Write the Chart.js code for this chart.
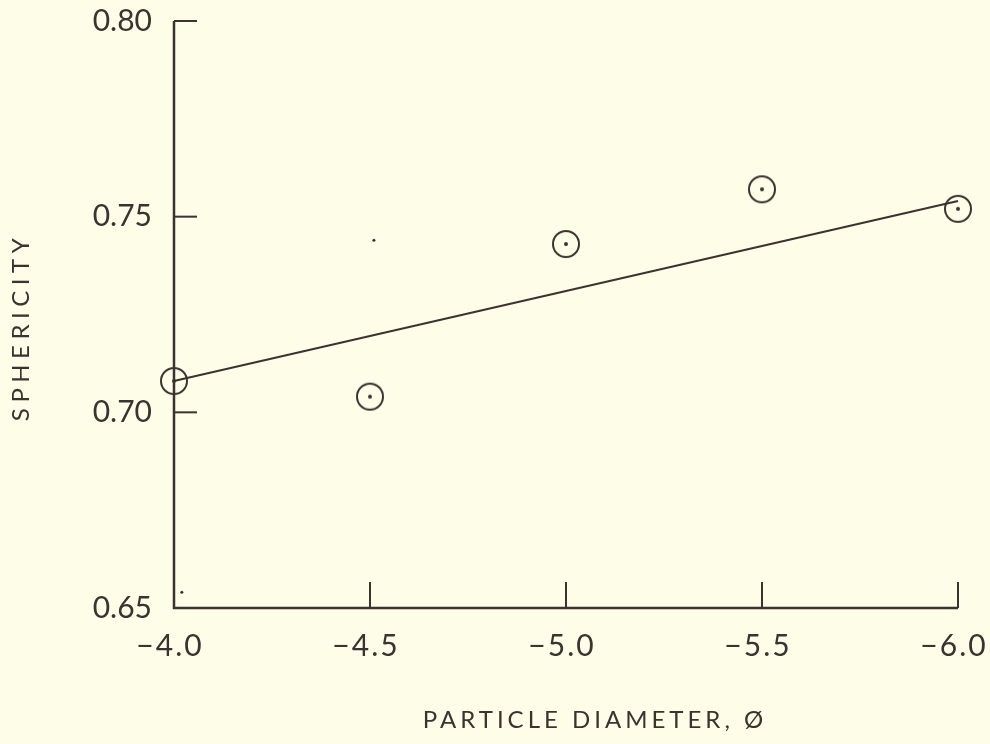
<!DOCTYPE html>
<html>
<head>
<meta charset="utf-8">
<script src="https://cdn.jsdelivr.net/npm/chart.js@4.4.1/dist/chart.umd.min.js"></script>
<style>
  body { margin: 0; background: #fdfde8; }
  #wrap { width: 990px; height: 744px; }
</style>
</head>
<body>
<div id="wrap"><canvas id="myChart" width="990" height="744"></canvas></div>
<script>
// measured points, phi units (x) vs sphericity (y)
var diameters = [-4.0, -4.5, -5.0, -5.5, -6.0];
var sphericity = [0.708, 0.704, 0.743, 0.757, 0.752];

// fitted line end points
var fitX = [-4.0, -6.0];
var fitY = [0.708, 0.754];

// stray specks on the original sheet
var speckX = [-4.51, -4.02];
var speckY = [0.744, 0.654];

var xTicks = [-4.0, -4.5, -5.0, -5.5, -6.0];
var yTicks = [0.65, 0.70, 0.75, 0.80];

var ink = '#3c3230';
var labelFont = '30px Lato';
var titleFont = '24px Lato';

// circle with a dot in the middle
var marker = document.createElement('canvas');
marker.width = 32;
marker.height = 32;
(function() {
    var c = marker.getContext('2d');
    c.strokeStyle = ink;
    c.fillStyle = ink;
    c.lineWidth = 2;
    c.beginPath();
    c.arc(16, 16, 13, 0, Math.PI * 2);
    c.stroke();
    c.beginPath();
    c.arc(16, 16, 2, 0, Math.PI * 2);
    c.fill();
})();

var toPoints = function(xs, ys) {
    return xs.map(function(x, i) {
        return { x: x, y: ys[i] };
    });
};

var paperAxes = {
    id: 'paperAxes',
    afterDraw: function(chart) {
        var ctx = chart.ctx;
        var xs = chart.scales.x;
        var ys = chart.scales.y;
        var area = chart.chartArea;

        ctx.save();
        ctx.strokeStyle = ink;
        ctx.fillStyle = ink;
        ctx.lineWidth = 2.5;

        // axis lines
        ctx.beginPath();
        ctx.moveTo(area.left, area.top);
        ctx.lineTo(area.left, area.bottom);
        ctx.lineTo(area.right, area.bottom);
        ctx.stroke();

        // inward ticks
        ctx.lineWidth = 2;
        yTicks.forEach(function(v) {
            if (v === ys.min) return;
            var y = ys.getPixelForValue(v);
            ctx.beginPath();
            ctx.moveTo(area.left, y);
            ctx.lineTo(area.left + 23, y);
            ctx.stroke();
        });
        xTicks.forEach(function(v) {
            if (v === xs.max) return;
            var x = xs.getPixelForValue(v);
            ctx.beginPath();
            ctx.moveTo(x, area.bottom);
            ctx.lineTo(x, area.bottom - 26);
            ctx.stroke();
        });

        // tick labels
        ctx.font = labelFont;
        ctx.textAlign = 'right';
        ctx.textBaseline = 'middle';
        yTicks.forEach(function(v) {
            ctx.fillText(v.toFixed(2), area.left - 22, ys.getPixelForValue(v));
        });
        ctx.textAlign = 'center';
        ctx.letterSpacing = '2px';
        xTicks.forEach(function(v) {
            var s = v.toFixed(1).replace('-', '\u2212');
            ctx.fillText(s, xs.getPixelForValue(v) - 4, area.bottom + 38);
        });

        // axis titles
        ctx.font = titleFont;
        ctx.letterSpacing = '4px';
        ctx.fillText('PARTICLE DIAMETER, Ø', 595, 720);
        ctx.letterSpacing = '5.5px';
        ctx.translate(21, 327);
        ctx.rotate(-Math.PI / 2);
        ctx.fillText('SPHERICITY', 0, 0);
        ctx.restore();
    }
};

var config = {
    type: 'scatter',
    data: {
        datasets: [{
            type: 'line',
            data: toPoints(fitX, fitY),
            borderColor: ink,
            borderWidth: 2,
            pointRadius: 0,
            clip: false
        }, {
            data: toPoints(diameters, sphericity),
            pointStyle: marker,
            pointRadius: 14,
            clip: false
        }, {
            data: toPoints(speckX, speckY),
            pointRadius: 1.5,
            backgroundColor: ink,
            borderWidth: 0,
            clip: false
        }]
    },
    options: {
        responsive: false,
        animation: false,
        layout: { padding: { top: 21, right: 32 } },
        plugins: {
            legend: { display: false },
            tooltip: { enabled: false }
        },
        scales: {
            x: {
                type: 'linear',
                min: -6.0,
                max: -4.0,
                reverse: true,
                grid: { display: false },
                border: { display: false },
                ticks: { display: false },
                afterFit: function(scale) { scale.height = 136; }
            },
            y: {
                min: 0.65,
                max: 0.80,
                grid: { display: false },
                border: { display: false },
                ticks: { display: false },
                afterFit: function(scale) { scale.width = 174; }
            }
        }
    },
    plugins: [paperAxes]
};

var myChart = new Chart(document.getElementById('myChart').getContext('2d'), config);
</script>
</body>
</html>
